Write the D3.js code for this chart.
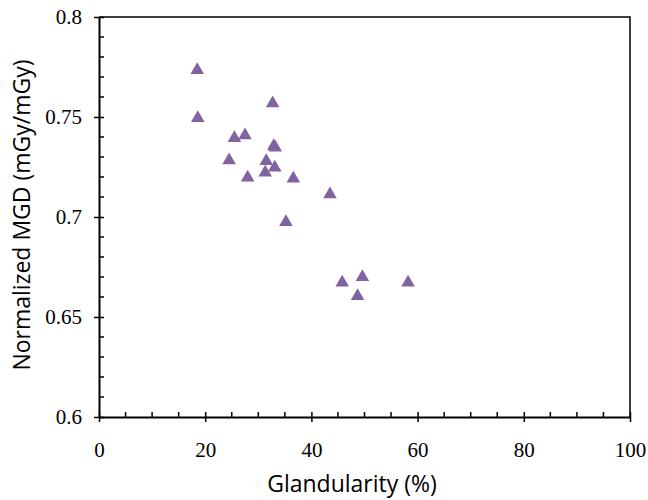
<!DOCTYPE html>
<html><head><meta charset="utf-8">
<script src="https://cdn.jsdelivr.net/npm/d3@7"></script>
<style>body{margin:0;background:#fff}</style>
</head><body>
<svg id="c" width="648" height="500"></svg>
<script>
const glandularity = [18.5,18.6,32.7,25.5,27.5,32.9,33.2,24.5,31.5,31.3,33.1,28.0,36.6,43.5,35.2,45.8,49.6,48.7,58.2];
const normalizedMGD = [0.774,0.750,0.7573,0.740,0.7413,0.736,0.7352,0.7288,0.7285,0.7227,0.7252,0.7202,0.7197,0.7118,0.698,0.6677,0.6705,0.661,0.6677];
const xTicks = [0,20,40,60,80,100];
const yTicks = [0.6,0.65,0.7,0.75,0.8];

const svg = d3.select('#c');
const L=99, R=630, T=17, B=417;
const x = d3.scaleLinear().domain([0,100]).range([L,R]);
const y = d3.scaleLinear().domain([0.6,0.8]).range([B,T]);
const serif = "'Liberation Serif', 'Times New Roman', serif";
const sans = "'Open Sans', sans-serif";

svg.append('path').attr('d',`M${L},${T}H${R}V${B}`).attr('fill','none').attr('stroke','#000').attr('stroke-width',1.5);

const xMinor = d3.range(0,101,5).filter(v=>v%20!==0);
svg.append('g').selectAll('line').data(xMinor).join('line')
  .attr('x1',d=>x(d)).attr('x2',d=>x(d)).attr('y1',B).attr('y2',B-5)
  .attr('stroke','#000').attr('stroke-width',1.5);
const yMinor = d3.range(0,21,1).map(i=>0.6+i*0.01).filter((v,i)=>i%5!==0);
svg.append('g').selectAll('line').data(yMinor).join('line')
  .attr('x1',L).attr('x2',L+5).attr('y1',d=>y(d)).attr('y2',d=>y(d))
  .attr('stroke','#000').attr('stroke-width',1.5);

const xAxis = svg.append('g').attr('transform',`translate(0,${B})`)
  .call(d3.axisBottom(x).tickValues(xTicks).tickFormat(d3.format('d')).tickSize(5).tickPadding(20).tickSizeOuter(0));
xAxis.selectAll('.tick line').attr('y1',-5);
const yAxis = svg.append('g').attr('transform',`translate(${L},0)`)
  .call(d3.axisLeft(y).tickValues(yTicks).tickFormat(d=>String(+d.toFixed(2))).tickSize(5).tickPadding(12).tickSizeOuter(0));
yAxis.selectAll('.tick line').attr('x1',5);
[xAxis,yAxis].forEach(a=>{
  a.attr('font-family',serif).attr('font-size',21);
  a.select('.domain').attr('stroke-width',2);
  a.selectAll('.tick line').attr('stroke-width',1.5);
  a.selectAll('.tick text').style('font-family',serif).style('font-size','21px').style('fill','#000');
});

const tri = d3.symbol().type(d3.symbolTriangle).size(80);
svg.append('g').selectAll('path').data(glandularity.map((g,i)=>[g,normalizedMGD[i]])).join('path')
  .attr('d',tri).attr('transform',d=>`translate(${x(d[0])},${y(d[1])+1})`)
  .attr('fill','#8064A2');

svg.append('text').attr('x',352).attr('y',492).attr('text-anchor','middle')
  .style('font-family',sans).style('font-size','23px').text('Glandularity (%)');
svg.append('text').attr('transform',`translate(30,215) rotate(-90)`).attr('text-anchor','middle')
  .style('font-family',sans).style('font-size','23px').text('Normalized MGD (mGy/mGy)');
</script>
</body></html>
